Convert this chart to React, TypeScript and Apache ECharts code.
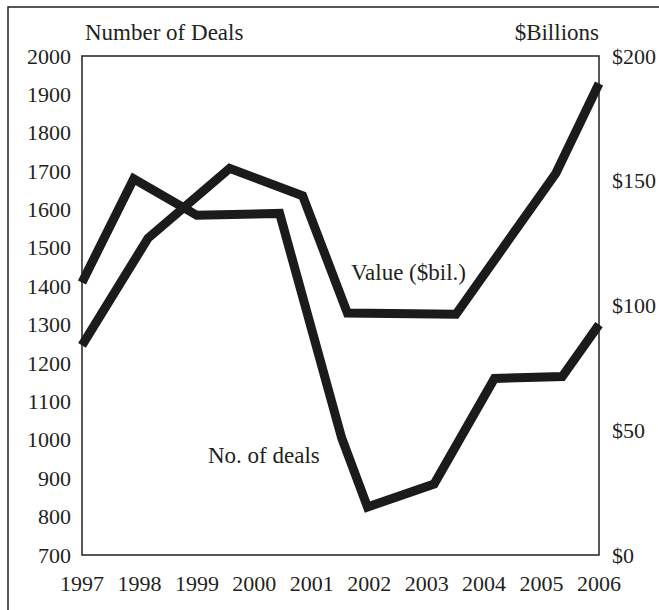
import React, { useEffect, useRef } from "react";
import * as echarts from "echarts";

// X-axis tick years
const years = [1997, 1998, 1999, 2000, 2001, 2002, 2003, 2004, 2005, 2006];

// Number of deals (left axis) – vertex positions
const dealsYears = [1997, 1997.9, 1999.0, 2000.44, 2001.52, 2001.97, 2003.13, 2004.18, 2005.36, 2006];
const dealsCounts = [1410, 1680, 1585, 1590, 1005, 825, 885, 1160, 1165, 1300];

// Value in $ billions (right axis)
const valueYears = [1997, 1998.15, 1999.57, 2000.84, 2001.62, 2003.51, 2005.25, 2006];
const valueBillions = [84, 127, 155, 144, 97, 96.5, 153, 189];

// Axis ranges / labels
const leftMin = 700;
const leftMax = 2000;
const leftStep = 100;
const rightMin = 0;
const rightMax = 200;
const rightStep = 50;

const leftAxisName = "Number of Deals";
const rightAxisName = "$Billions";
const valueLabel = "Value ($bil.)";
const dealsLabel = "No. of deals";

const INK = "#231f20";
const LINE = "#1c1a1a";
const FONT = "'Liberation Serif', 'Times New Roman', serif";

export default function App() {
  const ref = useRef<HTMLDivElement>(null);

  useEffect(() => {
    if (!ref.current) return;
    const chart = echarts.init(ref.current, undefined, { renderer: "svg" });
    const labelStyle = { color: INK, fontFamily: FONT, fontSize: 22 };
    const nameStyle = { color: INK, fontFamily: FONT, fontSize: 23 };
    chart.setOption({
      animation: false,
      backgroundColor: "#ffffff",
      grid: {
        left: 82,
        right: 59,
        top: 56,
        bottom: 55,
        show: true,
        borderColor: INK,
        borderWidth: 1.5,
        backgroundColor: "transparent",
      },
      xAxis: {
        type: "value",
        min: years[0],
        max: years[years.length - 1],
        interval: 1,
        axisLine: { show: false },
        axisTick: { show: false },
        splitLine: { show: false },
        axisLabel: {
          ...labelStyle,
          margin: 17,
          formatter: (v: number) => String(v),
        },
      },
      yAxis: [
        {
          type: "value",
          position: "left",
          min: leftMin,
          max: leftMax,
          interval: leftStep,
          name: leftAxisName,
          nameLocation: "end",
          nameGap: 12,
          nameTextStyle: { ...nameStyle, align: "left", padding: [0, 0, 0, 3] },
          axisLine: { show: false },
          axisTick: { show: false },
          splitLine: { show: false },
          axisLabel: { ...labelStyle, margin: 11, formatter: (v: number) => String(v) },
        },
        {
          type: "value",
          position: "right",
          min: rightMin,
          max: rightMax,
          interval: rightStep,
          name: rightAxisName,
          nameLocation: "end",
          nameGap: 12,
          nameTextStyle: { ...nameStyle, align: "right" },
          axisLine: { show: false },
          axisTick: { show: false },
          splitLine: { show: false },
          axisLabel: { ...labelStyle, margin: 13, formatter: (v: number) => "$" + v },
        },
      ],
      series: [
        {
          name: dealsLabel,
          type: "line",
          yAxisIndex: 0,
          data: dealsYears.map((y, i) => [y, dealsCounts[i]]),
          symbol: "none",
          clip: false,
          lineStyle: { color: LINE, width: 9, join: "miter", cap: "butt", miterLimit: 10 },
        },
        {
          name: valueLabel,
          type: "line",
          yAxisIndex: 1,
          data: valueYears.map((y, i) => [y, valueBillions[i]]),
          symbol: "none",
          clip: false,
          lineStyle: { color: LINE, width: 9, join: "miter", cap: "butt", miterLimit: 10 },
        },
      ],
      graphic: [
        {
          type: "rect",
          silent: true,
          shape: { x: 8, y: 7, width: 800, height: 800 },
          style: { fill: "none", stroke: INK, lineWidth: 1.5 },
        },
        {
          type: "text",
          x: 351,
          y: 272,
          style: {
            text: valueLabel,
            fill: INK,
            fontFamily: FONT,
            fontSize: 23,
            verticalAlign: "middle",
          },
        },
        {
          type: "text",
          x: 208,
          y: 455,
          style: {
            text: dealsLabel,
            fill: INK,
            fontFamily: FONT,
            fontSize: 23,
            verticalAlign: "middle",
          },
        },
      ],
    });
    return () => chart.dispose();
  }, []);

  return (
    <div
      ref={ref}
      style={{ position: "absolute", left: 0, top: 0, width: 659, height: 610 }}
    />
  );
}
